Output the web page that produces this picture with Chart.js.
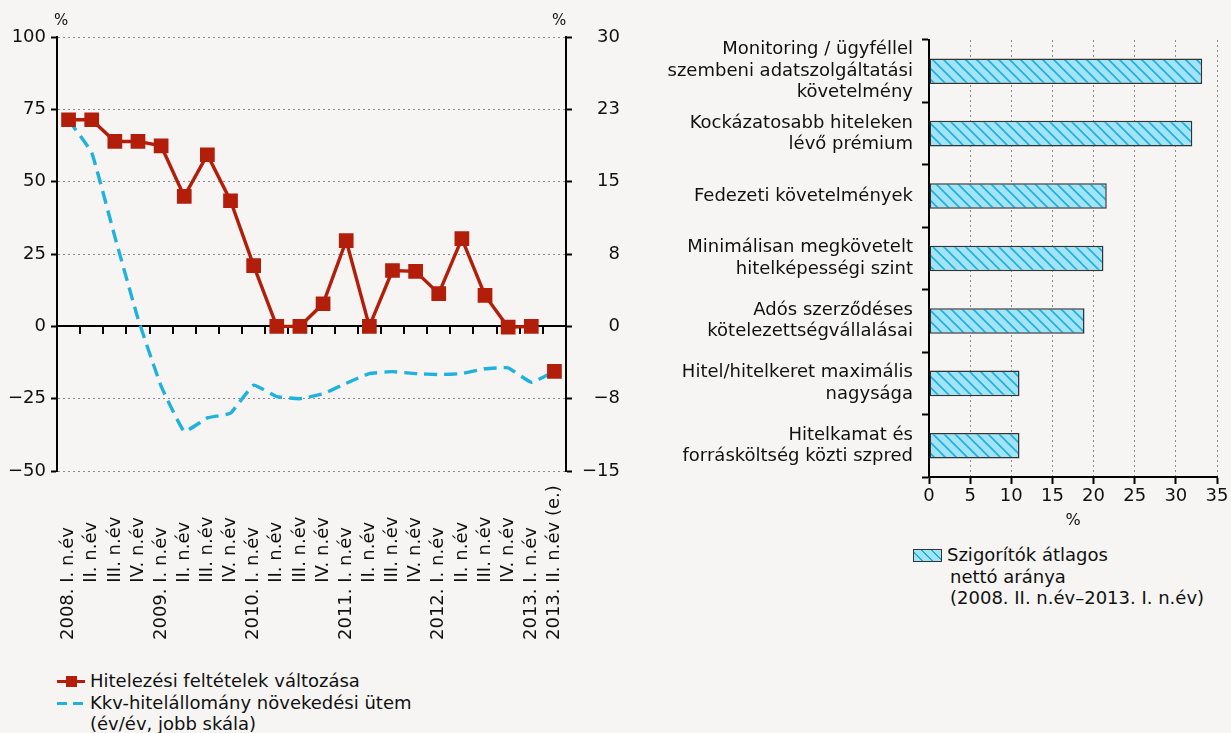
<!DOCTYPE html>
<html lang="hu">
<head>
<meta charset="utf-8">
<script src="https://cdn.jsdelivr.net/npm/chart.js@4.4.1/dist/chart.umd.min.js"></script>
<style>
  html, body { margin: 0; padding: 0; background: #f6f5f3; }
  body { width: 1231px; height: 733px; position: relative; overflow: hidden;
         font-family: "DejaVu Sans", sans-serif; color: #111; }
  .abs { position: absolute; }
  .pct { font-size: 15px; }
  .leg { font-size: 18px; line-height: 21.5px; white-space: nowrap; }
  .sw { display: inline-block; position: relative; width: 28px; height: 14px;
        margin-right: 5px; vertical-align: -1px; }
  .sw.red::before { content: ""; position: absolute; left: 0; right: 0; top: 6px; height: 3px; background: #b21e0a; }
  .sw.red::after { content: ""; position: absolute; left: 9px; top: 2px; width: 11px; height: 11px; background: #b21e0a; }
  .sw.blue::before { content: ""; position: absolute; left: 0; top: 6px; width: 10px; height: 3px; background: #1fb2df; }
  .sw.blue::after { content: ""; position: absolute; left: 16px; top: 6px; width: 10px; height: 3px; background: #1fb2df; }
  .hatch { display: inline-block; width: 27px; height: 11px; border: 1.5px solid #333;
           background: repeating-linear-gradient(45deg, #a3e3f6 0 5.5px, #1cb0df 5.5px 7px); }
</style>
</head>
<body>
<canvas id="left" class="abs" style="left:0;top:0" width="620" height="650"></canvas>
<canvas id="right" class="abs" style="left:620px;top:0" width="611" height="530"></canvas>

<div class="abs pct" style="left:54px;top:11px">%</div>
<div class="abs pct" style="left:552px;top:11px">%</div>

<div class="abs leg" style="left:57px;top:670px">
  <div><span class="sw red"></span>Hitelezési feltételek változása</div>
  <div><span class="sw blue"></span>Kkv-hitelállomány növekedési ütem</div>
  <div style="padding-left:33px">(év/év, jobb skála)</div>
</div>

<div class="abs leg" style="left:913px;top:544px">
  <div><span class="hatch" style="vertical-align:-1px;margin-right:5px"></span>Szigorítók átlagos</div>
  <div style="padding-left:37px">nettó aránya</div>
  <div style="padding-left:37px">(2008. II. n.év–2013. I. n.év)</div>
</div>

<script>
// left chart data
var quarters = ['2008. I. n.év', 'II. n.év', 'III. n.év', 'IV. n.év',
  '2009. I. n.év', 'II. n.év', 'III. n.év', 'IV. n.év',
  '2010. I. n.év', 'II. n.év', 'III. n.év', 'IV. n.év',
  '2011. I. n.év', 'II. n.év', 'III. n.év', 'IV. n.év',
  '2012. I. n.év', 'II. n.év', 'III. n.év', 'IV. n.év',
  '2013. I. n.év', '2013. II. n.év (e.)'];
// Hitelezési feltételek változása (bal skála), last one is the estimate
var tightening = [71.4, 71.4, 63.9, 63.9, 62.4, 44.9, 59.3, 43.4, 21, 0, 0, 7.8,
  29.6, 0, 19.3, 19, 11.3, 30.3, 10.7, -0.3, 0, -15.6];
// Kkv-hitelállomány növekedési üteme (jobb skála)
var loanGrowth = [21.4, 18, 9.3, 0.8, -6.2, -10.9, -9.5, -9.0, -6.1, -7.3, -7.5, -7.0,
  -5.9, -4.9, -4.7, -4.9, -5.0, -4.9, -4.4, -4.3, -5.8, -4.7];
var leftTicks = [-50, -25, 0, 25, 50, 75, 100];

// right chart data
var factors = [
  ['Monitoring / ügyféllel', 'szembeni adatszolgáltatási', 'követelmény'],
  ['Kockázatosabb hiteleken', 'lévő prémium'],
  'Fedezeti követelmények',
  ['Minimálisan megkövetelt', 'hitelképességi szint'],
  ['Adós szerződéses', 'kötelezettségvállalásai'],
  ['Hitel/hitelkeret maximális', 'nagysága'],
  ['Hitelkamat és', 'forrásköltség közti szpred']
];
var netShare = [33.2, 32.0, 21.6, 21.2, 18.9, 11.0, 11.0];

var FONT = 'DejaVu Sans';
var INK = '#111';
var RED = '#b21e0a';
var BLUE = '#1fb2df';
Chart.defaults.font.family = FONT;
Chart.defaults.font.size = 18;
Chart.defaults.color = INK;

function minus(v) {
  return String(v).replace('-', '\u2212');
}

// x labels of the left chart, start aligned at the bottom, quarters lined up
var quarterLabels = {
  id: 'quarterLabels',
  afterDraw: function(chart) {
    var ctx = chart.ctx;
    var xs = chart.scales.x;
    var base = 640;
    ctx.save();
    ctx.font = '18px "' + FONT + '"';
    ctx.fillStyle = INK;
    ctx.textAlign = 'left';
    ctx.textBaseline = 'middle';
    var shift = ctx.measureText('2008. ').width;
    quarters.forEach(function(lbl, i) {
      var x = xs.getPixelForValue(i);
      var y = /^\d{4}\./.test(lbl) ? base : base - shift;
      ctx.save();
      ctx.translate(x, y);
      ctx.rotate(-Math.PI / 2);
      ctx.fillText(lbl, 0, 0);
      ctx.restore();
    });
    ctx.restore();
  }
};

var last = tightening.length - 1;

new Chart(document.getElementById('left'), {
  type: 'line',
  data: {
    labels: quarters,
    datasets: [{
      label: 'Hitelezési feltételek változása',
      data: tightening,
      yAxisID: 'y',
      borderColor: RED,
      backgroundColor: RED,
      borderWidth: 3.4,
      pointStyle: 'rect',
      pointRadius: 8,
      pointHoverRadius: 8,
      tension: 0,
      segment: {
        borderColor: function(c) { return c.p1DataIndex === last ? 'rgba(0,0,0,0)' : undefined; }
      }
    }, {
      label: 'Kkv-hitelállomány növekedési ütem (év/év, jobb skála)',
      data: loanGrowth,
      yAxisID: 'y1',
      borderColor: BLUE,
      backgroundColor: BLUE,
      borderWidth: 3.4,
      borderDash: [13, 7],
      pointRadius: 0,
      tension: 0.1
    }]
  },
  options: {
    responsive: false,
    animation: false,
    layout: { padding: { top: 37, bottom: 179 } },
    plugins: { legend: { display: false }, tooltip: { enabled: false } },
    scales: {
      x: {
        type: 'category',
        position: { y: 0 },
        offset: true,
        grid: { offset: true, drawOnChartArea: false, drawTicks: true, tickLength: 7,
                color: '#000', lineWidth: 2 },
        border: { color: '#000', width: 2 },
        ticks: { display: false }
      },
      y: {
        position: 'left',
        min: -50, max: 100,
        afterBuildTicks: function(s) { s.ticks = leftTicks.map(function(v) { return { value: v }; }); },
        afterFit: function(s) { s.width = 57; },
        grid: {
          color: function(c) { return c.tick && c.tick.value === 0 ? 'rgba(0,0,0,0)' : '#8c8c8c'; },
          tickColor: '#000',
          tickBorderDash: [],
          tickWidth: 2,
          tickLength: 6
        },
        border: { color: '#000', width: 2, dash: [2, 3] },
        ticks: { padding: 5, callback: function(v) { return minus(v); } }
      },
      y1: {
        position: 'right',
        min: -15, max: 30,
        ticks: {
          stepSize: 7.5,
          padding: 5,
          crossAlign: 'far',
          callback: function(v) { return minus(Math.sign(v) * Math.round(Math.abs(v))); }
        },
        afterFit: function(s) { s.width = 54; },
        grid: { drawOnChartArea: false, tickColor: '#000', tickWidth: 2, tickLength: 6 },
        border: { color: '#000', width: 2 }
      }
    }
  },
  plugins: [quarterLabels]
});

// hatched fill for the bars
function hatchPattern() {
  var n = 11;
  var c = document.createElement('canvas');
  c.width = n; c.height = n;
  var g = c.getContext('2d');
  g.fillStyle = '#a3e3f6';
  g.fillRect(0, 0, n, n);
  g.strokeStyle = '#1cb0df';
  g.lineWidth = 1.6;
  g.beginPath();
  g.moveTo(-1, -1); g.lineTo(n + 1, n + 1);
  g.moveTo(-1, n - 1); g.lineTo(1, n + 1);
  g.moveTo(n - 1, -1); g.lineTo(n + 1, 1);
  g.stroke();
  return g.createPattern(c, 'repeat');
}

new Chart(document.getElementById('right'), {
  type: 'bar',
  data: {
    labels: factors,
    datasets: [{
      label: 'Szigorítók átlagos nettó aránya (2008. II. n.év–2013. I. n.év)',
      data: netShare,
      backgroundColor: hatchPattern(),
      borderColor: '#333',
      borderWidth: 1.5,
      borderSkipped: false,
      categoryPercentage: 1,
      barPercentage: 0.41
    }]
  },
  options: {
    indexAxis: 'y',
    responsive: false,
    animation: false,
    layout: { padding: { top: 40, right: 14 } },
    plugins: { legend: { display: false }, tooltip: { enabled: false } },
    scales: {
      x: {
        min: 0, max: 35,
        ticks: { stepSize: 5, padding: 2 },
        afterFit: function(s) { s.height = 53; },
        grid: {
          color: function(c) { return c.tick && c.tick.value === 0 ? 'rgba(0,0,0,0)' : '#8c8c8c'; },
          tickColor: '#000',
          tickBorderDash: [],
          tickWidth: 2,
          tickLength: 7
        },
        border: { color: '#000', width: 2, dash: [2, 3] },
        title: { display: true, text: '%', font: { size: 16 }, padding: { top: 0, bottom: 0 } }
      },
      y: {
        afterFit: function(s) { s.width = 309; },
        grid: { offset: true, drawOnChartArea: false, tickColor: '#000', tickWidth: 2, tickLength: 7 },
        border: { color: '#000', width: 2 },
        ticks: { padding: 9, autoSkip: false }
      }
    }
  }
});
</script>
</body>
</html>
